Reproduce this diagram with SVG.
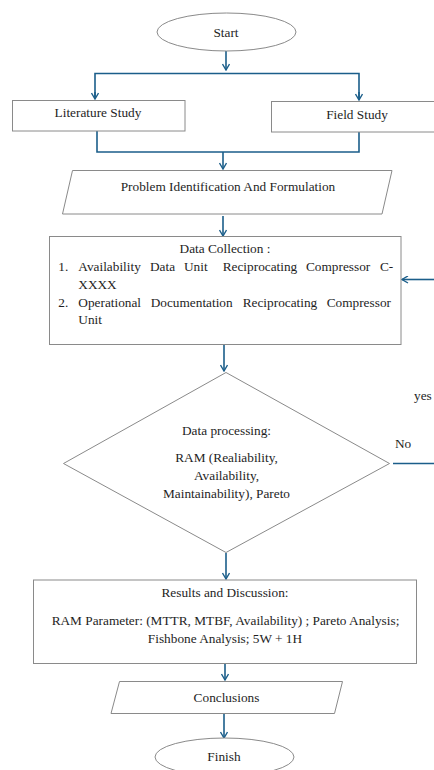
<svg xmlns="http://www.w3.org/2000/svg" width="434" height="770" viewBox="0 0 434 770">
<defs>
<marker id="ah" markerWidth="8" markerHeight="8" refX="7" refY="4" orient="auto" markerUnits="userSpaceOnUse">
<path d="M1,0.5 L7,4 L1,7.5" fill="none" stroke="#1b5e8a" stroke-width="1.4"/>
</marker>
<style>
.n{fill:#fff;stroke:#8a8a8a;stroke-width:1}
.t{font-family:'Liberation Serif','DejaVu Serif',serif;font-size:13.3px;fill:#1e1e1e}
.c{text-anchor:middle}
.e{fill:none;stroke:#1b5e8a;stroke-width:1.6}
</style>
</defs>
<rect width="434" height="770" fill="#fff"/>
<g id="connectors">
<path class="e" d="M226,51 V70" marker-end="url(#ah)"/>
<path class="e" d="M95,99 V73.5 H359 V99" />
<path class="e" d="M95,92 V99" marker-end="url(#ah)"/>
<path class="e" d="M359,92 V100" marker-end="url(#ah)"/>
<path class="e" d="M97,131 V152 H359 V132"/>
<path class="e" d="M223,152 V169" marker-end="url(#ah)"/>
<path class="e" d="M223,216 V236" marker-end="url(#ah)"/>
<path class="e" d="M434,279.5 H402" marker-end="url(#ah)"/>
<path class="e" d="M224,345 V371" marker-end="url(#ah)"/>
<path class="e" d="M393,463.5 H434" stroke="#3f87b0"/>
<path class="e" d="M226,553 V579" marker-end="url(#ah)"/>
<path class="e" d="M225,664 V680" marker-end="url(#ah)"/>
<path class="e" d="M224,714 V738" marker-end="url(#ah)"/>
</g>
<g id="start">
<ellipse class="n" cx="226.5" cy="32" rx="69.5" ry="19"/>
<text class="t c" x="226" y="36.5">Start</text>
</g>
<g id="literature">
<rect class="n" x="12.5" y="100.5" width="172.5" height="30.5"/>
<text class="t c" x="98" y="117">Literature Study</text>
</g>
<g id="field">
<rect class="n" x="271.5" y="101.5" width="163" height="30.5"/>
<text class="t c" x="357" y="118.5">Field Study</text>
</g>
<g id="problem">
<polygon class="n" points="72.5,170.5 392,170.5 382,214 62.5,214"/>
<text class="t c" x="228" y="190.5">Problem Identification And Formulation</text>
</g>
<g id="datacollection">
<rect class="n" x="49.5" y="236.5" width="351.5" height="108"/>
<text class="t c" x="225" y="252.5">Data Collection :</text>
<text class="t" y="271"><tspan x="58.3">1.</tspan><tspan x="78.3">Availability</tspan><tspan x="150">Data</tspan><tspan x="184">Unit</tspan><tspan x="222.7">Reciprocating</tspan><tspan x="306">Compressor</tspan><tspan x="380">C-</tspan></text>
<text class="t" x="78.3" y="288.5">XXXX</text>
<text class="t" y="306.5"><tspan x="58.3">2.</tspan><tspan x="78.3">Operational</tspan><tspan x="150.7">Documentation</tspan><tspan x="242.7">Reciprocating</tspan><tspan x="326.7">Compressor</tspan></text>
<text class="t" x="78.3" y="324">Unit</text>
</g>
<g id="processing">
<polygon class="n" points="226,372.5 389.5,463.5 226,552.5 63.5,463.5"/>
<text class="t c" x="226.5" y="435">Data processing:</text>
<text class="t c" x="226.5" y="461.5">RAM (Realiability,</text>
<text class="t c" x="226.5" y="480">Availability,</text>
<text class="t c" x="226.5" y="497.5">Maintainability), Pareto</text>
</g>
<g id="labels">
<text class="t" x="414" y="399.5">yes</text>
<text class="t" x="395" y="448">No</text>
</g>
<g id="results">
<rect class="n" x="33.5" y="580" width="383" height="83.5"/>
<text class="t c" x="225" y="597">Results and Discussion:</text>
<text class="t c" x="225.5" y="625">RAM Parameter: (MTTR, MTBF, Availability) ; Pareto Analysis;</text>
<text class="t c" x="225" y="643">Fishbone Analysis; 5W + 1H</text>
</g>
<g id="conclusions">
<polygon class="n" points="119.5,681.5 342.5,681.5 334.5,713.5 111,713.5"/>
<text class="t c" x="226.5" y="702">Conclusions</text>
</g>
<g id="finish">
<ellipse class="n" cx="224.5" cy="757" rx="69.5" ry="19"/>
<text class="t c" x="224" y="760.5">Finish</text>
</g>
</svg>
